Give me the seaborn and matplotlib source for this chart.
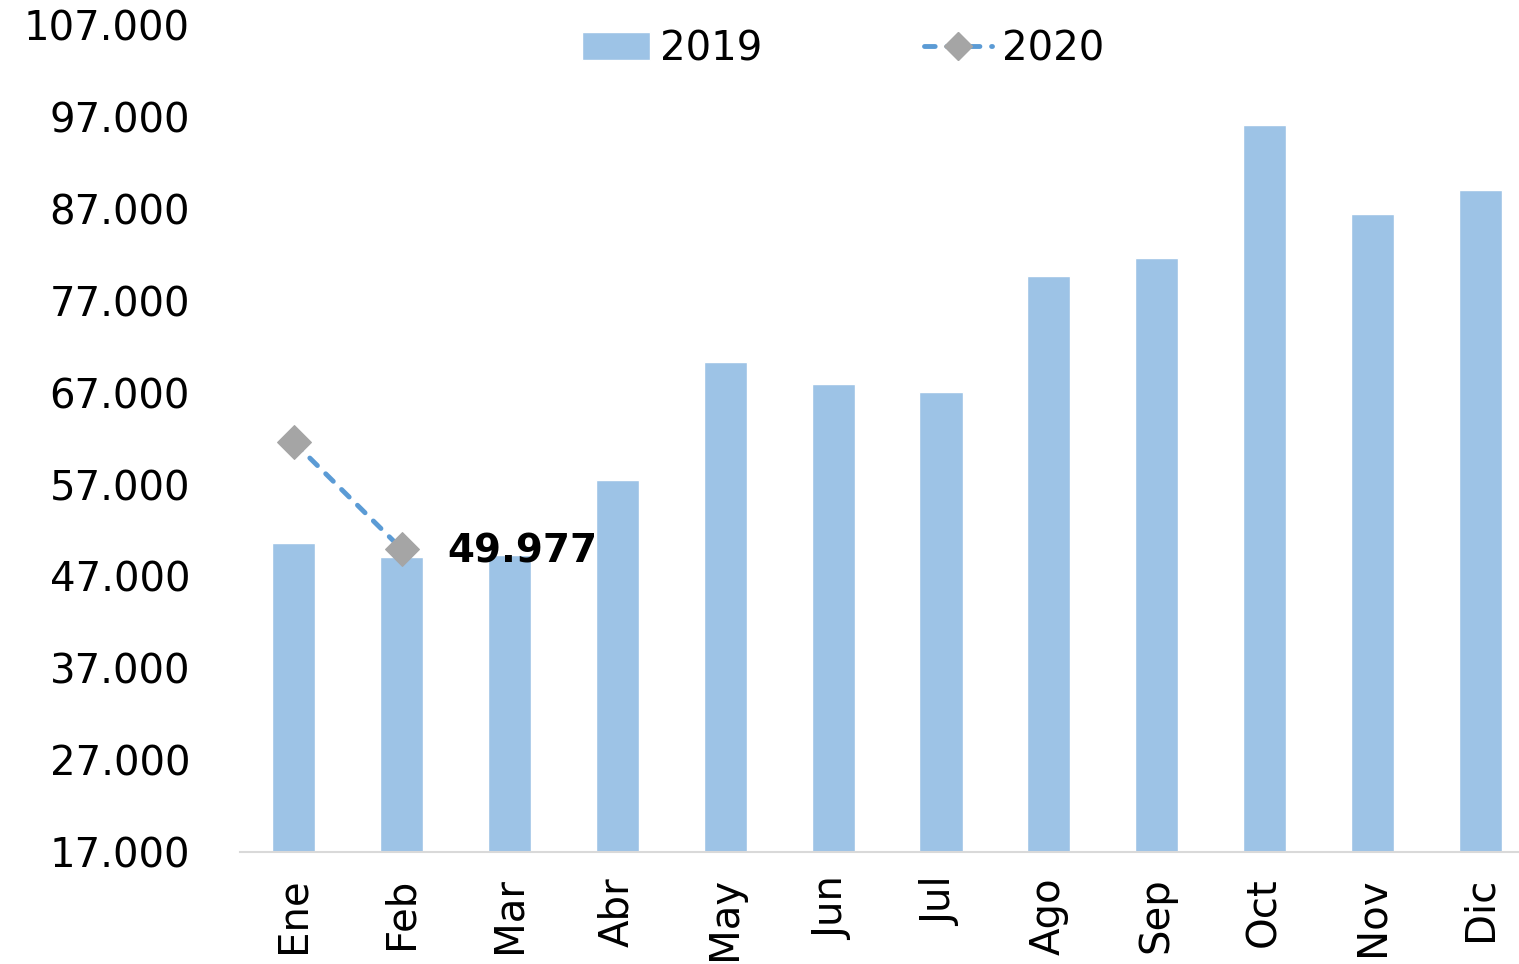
import matplotlib
matplotlib.use("Agg")
import matplotlib.pyplot as plt
from matplotlib.lines import Line2D
from matplotlib.patches import Patch
import seaborn as sns
import pandas as pd

# data
months = ['Ene', 'Feb', 'Mar', 'Abr', 'May', 'Jun', 'Jul', 'Ago', 'Sep', 'Oct', 'Nov', 'Dic']
values_2019 = [50600, 49100, 49300, 57500, 70300, 67900, 67050, 79700, 81700, 96100, 86400, 89100]
months_2020 = ['Ene', 'Feb']
values_2020 = [61600, 49977]
yticks = list(range(17000, 107001, 10000))

sns.set_style("white")
plt.rcParams['font.family'] = ['DejaVu Sans']
plt.rcParams['text.color'] = 'black'
plt.rcParams['xtick.color'] = 'black'
plt.rcParams['ytick.color'] = 'black'

bar_color = '#9DC3E6'
line_color = '#5B9BD5'
marker_color = '#A5A5A5'
dash = (0, (2.2, 2.4))

df = pd.DataFrame({'mes': months, 'valor': values_2019})

fig = plt.figure(figsize=(15.19, 9.64), dpi=100)
ax = fig.add_axes([0.158, 0.116, 0.852, 0.858])

sns.barplot(data=df, x='mes', y='valor', color=bar_color, width=0.4,
            saturation=1, ax=ax)

x2020 = [months.index(m) for m in months_2020]
sns.lineplot(x=x2020, y=values_2020, ax=ax, color=line_color, lw=3.5,
             linestyle=dash, dash_capstyle='round', marker='D',
             markersize=17, markerfacecolor=marker_color,
             markeredgecolor=marker_color)

ax.annotate(f"{values_2020[-1]:,}".replace(',', '.'), xy=(x2020[-1], values_2020[-1]),
            xytext=(33, -2), textcoords='offset points', va='center', ha='left',
            fontsize=28, fontweight='bold', color='black')

ax.set_ylim(17000, 107000)
ax.set_xlim(-0.5, 11.5)
ax.set_yticks(yticks)
ax.set_yticklabels([f"{v:,}".replace(',', '.') for v in yticks], fontsize=29)
ax.tick_params(axis='y', length=0, pad=36, labelcolor='black')
ax.set_xticks(range(len(months)))
ax.set_xticklabels(months, rotation=90, fontsize=29)
ax.tick_params(axis='x', length=0, pad=18, labelcolor='black')
ax.set_xlabel('')
ax.set_ylabel('')

for side in ['left', 'right', 'top']:
    ax.spines[side].set_visible(False)
ax.spines['bottom'].set_color('#D9D9D9')
ax.spines['bottom'].set_linewidth(1.5)

handles = [Patch(facecolor=bar_color, label='2019'),
           Line2D([0], [0], color=line_color, lw=3.5, linestyle=dash,
                  dash_capstyle='round', marker='D', markersize=14,
                  markerfacecolor=marker_color, markeredgecolor=marker_color,
                  label='2020')]
leg = ax.legend(handles=handles, loc='upper center', bbox_to_anchor=(0.466, 1.039),
                ncol=2, frameon=False, fontsize=29, columnspacing=4.0,
                handlelength=1.7, handletextpad=0.25)
for t in leg.get_texts():
    t.set_color('black')

fig.savefig('out.png', dpi=100)
